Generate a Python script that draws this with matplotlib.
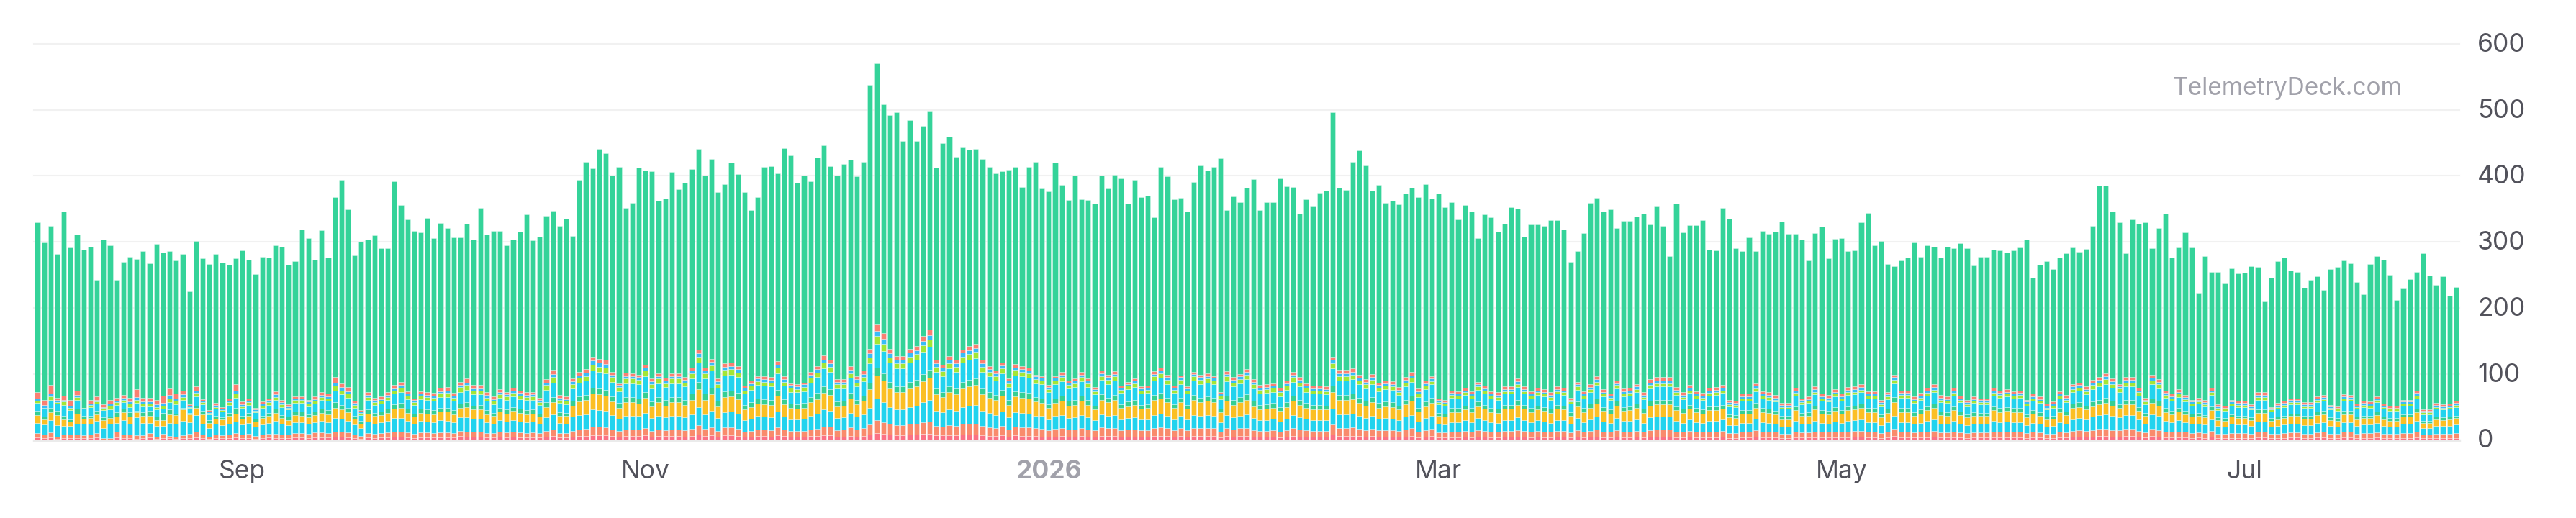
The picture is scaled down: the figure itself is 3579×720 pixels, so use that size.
import numpy as np
import pandas as pd
import matplotlib
matplotlib.use("Agg")
import matplotlib.pyplot as plt
import matplotlib.dates as mdates
from matplotlib.transforms import blended_transform_factory, ScaledTranslation

plt.rcParams['font.family'] = ['Inter', 'DejaVu Sans']

start_date = "2025-08-01"

totals = [330,299,324,282,346,292,311,288,293,243,
303,295,243,270,277,274,286,268,297,284,
286,272,282,225,301,275,266,282,269,265,
275,287,273,251,277,276,295,293,265,271,
319,306,273,318,276,368,394,349,280,300,
304,310,291,291,392,356,334,317,314,336,
306,329,321,307,307,327,303,351,311,317,
317,295,304,315,342,302,308,340,347,324,
335,309,394,421,411,441,434,401,414,351,
359,413,408,407,362,366,406,380,390,410,
441,401,426,375,388,420,403,376,348,368,
414,415,404,442,431,390,401,392,428,446,
415,400,418,425,400,421,538,571,508,492,
496,453,484,453,476,499,413,450,459,429,
443,440,441,426,414,404,407,409,414,383,
414,421,381,377,420,386,363,400,365,363,
358,400,381,402,396,358,394,368,370,337,
414,400,365,367,346,391,416,408,414,427,
348,369,360,382,395,348,360,360,396,384,
383,343,365,354,374,378,496,382,379,421,
439,416,378,386,359,362,357,373,382,368,
388,366,373,353,360,334,356,346,306,342,
337,316,328,353,350,308,326,326,324,333,
333,319,270,286,313,359,367,346,349,321,
332,332,338,343,326,354,324,279,358,314,
325,325,333,288,287,352,335,290,286,307,
286,317,312,315,331,312,312,303,272,313,
323,275,305,306,286,287,330,344,295,301,
267,263,272,276,299,277,295,293,276,293,
291,298,290,264,277,277,288,287,284,287,
292,304,246,265,271,259,276,283,292,285,
289,324,385,385,346,330,283,334,327,330,
291,321,343,276,292,314,292,223,279,254,
255,237,260,252,253,263,262,210,246,271,
276,257,254,230,243,248,227,259,262,272,
268,239,221,267,279,273,250,212,229,244,
255,283,249,235,248,219,232]

rose = [4,3,4,2,3,3,3,3,3,4,
1,1,4,3,3,2,3,4,2,3,
3,2,3,3,4,3,2,3,3,3,
4,3,3,2,3,4,3,3,3,4,
4,3,4,4,4,5,5,4,3,2,
4,3,4,4,5,5,4,3,4,4,
4,4,4,4,6,5,5,5,4,4,
5,4,5,4,4,4,4,5,6,4,
4,5,6,6,7,7,7,6,5,6,
6,6,7,5,6,6,6,6,5,6,
8,6,7,5,7,7,6,5,5,6,
6,5,7,6,5,5,5,6,6,7,
7,5,5,6,5,6,8,10,9,8,
7,7,8,8,9,9,7,7,7,7,
8,8,8,7,6,6,7,5,7,6,
6,6,5,5,5,6,5,5,6,5,
5,6,6,6,5,5,5,5,5,6,
6,6,5,6,5,6,6,6,6,4,
6,5,6,6,5,5,5,5,4,5,
6,5,5,5,5,5,8,6,6,6,
6,5,6,5,5,5,5,5,6,4,
5,6,4,4,4,4,5,4,5,5,
4,4,5,5,5,5,4,5,4,4,
5,5,4,5,4,5,5,4,4,5,
4,4,5,4,5,5,5,5,4,4,
5,4,4,4,4,5,3,3,4,4,
5,4,4,4,3,3,4,4,4,4,
4,4,4,4,4,5,5,4,4,3,
4,6,4,4,4,4,4,5,4,4,
4,4,3,4,4,4,4,4,4,4,
4,3,4,4,3,3,4,4,5,5,
5,5,6,6,5,5,6,6,5,4,
6,5,4,4,4,4,3,4,3,5,
3,3,3,3,3,3,4,4,3,3,
3,4,4,3,3,4,4,3,3,4,
4,3,3,3,4,3,3,3,3,3,
4,3,3,3,3,3,3]

coral = [6,5,7,3,5,5,5,4,5,6,
2,2,8,5,5,5,4,6,3,6,
3,3,4,6,8,5,3,5,4,5,
6,5,6,4,5,5,6,5,5,6,
6,6,7,7,6,8,8,7,5,4,
6,6,6,7,8,8,7,6,7,7,
6,7,7,6,8,8,8,8,6,6,
7,7,7,7,6,7,6,9,10,6,
6,9,10,11,13,13,12,10,9,10,
10,10,11,9,10,9,10,10,10,11,
14,11,12,9,12,12,11,8,9,10,
10,10,12,10,9,9,9,10,11,13,
13,10,11,13,11,12,15,20,18,16,
15,15,16,17,18,19,14,13,15,14,
16,17,17,14,13,12,14,11,13,13,
13,12,12,10,12,12,11,11,12,11,
10,13,12,12,10,11,11,10,10,12,
13,12,10,12,10,12,12,12,12,9,
12,11,12,12,10,9,9,10,9,10,
12,11,10,9,9,9,15,12,12,13,
11,10,11,10,10,10,9,11,12,9,
10,11,7,7,8,8,9,8,10,9,
8,8,9,9,10,9,8,9,9,8,
9,9,7,10,8,9,11,9,8,10,
9,9,9,8,10,11,11,11,9,8,
9,8,8,9,9,9,7,7,8,8,
10,8,8,8,6,6,9,7,7,9,
8,8,9,8,9,9,9,8,8,7,
8,11,8,8,7,8,9,9,7,7,
9,7,7,7,7,7,9,8,8,8,
8,7,8,7,6,6,8,7,9,10,
9,10,11,11,10,10,11,11,9,7,
11,10,8,8,9,8,7,7,7,9,
6,6,7,7,7,6,8,8,6,6,
7,7,7,6,6,7,8,6,6,8,
8,6,7,7,7,6,6,6,7,7,
8,5,5,6,6,6,7]

cyan = [16,15,19,17,13,13,17,17,16,19,
15,21,14,22,16,27,19,16,16,12,
20,20,22,18,26,17,13,16,15,16,
18,15,17,14,15,17,20,16,14,17,
17,15,16,18,17,20,19,18,15,12,
18,16,17,18,20,20,18,16,18,17,
17,19,18,17,20,21,19,19,17,15,
18,17,18,17,17,17,15,20,23,16,
15,21,22,22,26,25,25,22,18,21,
21,20,23,19,21,19,21,21,19,22,
28,22,25,19,23,24,23,17,18,20,
19,19,24,19,17,17,18,21,23,26,
24,18,18,22,19,21,26,33,30,26,
24,24,26,27,30,32,23,22,24,23,
26,27,28,23,22,20,22,18,22,22,
21,19,19,16,19,20,17,18,20,18,
15,20,19,20,16,17,18,16,16,20,
21,19,16,19,16,20,19,20,19,14,
20,18,19,21,18,16,16,17,15,17,
20,18,17,16,16,16,24,21,21,21,
19,18,20,17,18,17,16,19,20,15,
18,19,13,12,15,15,16,15,18,16,
15,14,16,16,19,16,15,16,15,14,
16,16,13,18,15,17,19,15,14,18,
16,16,17,14,19,19,19,19,16,14,
17,15,14,16,16,17,12,12,14,14,
17,15,14,13,11,11,16,13,13,16,
14,13,15,14,16,16,17,15,15,12,
15,20,15,15,13,14,16,17,14,13,
16,13,12,13,13,13,16,15,16,15,
15,12,14,13,11,12,15,14,17,18,
17,20,21,22,21,19,21,21,17,14,
22,21,17,15,17,15,14,14,13,17,
12,11,14,13,13,12,16,16,11,12,
13,14,14,13,13,15,15,12,11,15,
15,12,13,13,15,12,11,11,14,14,
17,10,10,12,12,12,13]

amber = [12,8,12,16,10,7,15,8,9,10,
12,9,9,12,11,8,10,10,9,9,
13,13,17,12,10,14,8,8,9,12,
12,9,10,8,10,10,12,9,8,11,
10,10,11,12,12,16,14,13,9,7,
12,11,11,12,14,15,12,10,12,12,
12,13,14,12,14,16,14,14,12,11,
13,12,14,13,12,12,10,16,18,11,
11,17,20,21,24,24,23,20,17,20,
20,19,23,18,20,18,20,20,19,22,
27,22,25,18,23,23,22,16,18,19,
19,19,24,19,17,16,17,20,22,25,
24,18,18,22,19,20,28,35,33,28,
26,26,28,29,32,34,25,23,26,25,
28,29,30,25,23,22,24,19,24,23,
23,21,20,17,20,21,19,19,21,19,
16,22,20,22,17,18,19,16,17,22,
23,20,17,20,16,22,20,21,20,15,
21,19,20,22,18,16,17,17,16,18,
21,19,17,16,16,16,25,21,21,22,
20,19,20,17,18,18,16,19,21,15,
18,20,12,12,15,15,16,15,18,17,
15,15,17,17,19,17,15,16,16,15,
17,16,13,18,15,17,20,16,14,19,
15,16,17,15,18,19,19,19,16,15,
16,15,14,16,16,16,12,11,14,14,
17,15,15,14,11,11,16,12,13,17,
14,14,16,14,16,16,17,15,15,12,
14,20,15,15,13,14,16,17,13,13,
16,14,12,13,12,12,16,15,16,15,
15,12,14,13,11,11,15,13,17,17,
15,16,16,17,16,14,16,16,13,11,
17,16,13,12,13,12,11,11,11,14,
9,9,11,10,10,9,13,13,9,10,
10,11,11,10,10,12,12,9,9,12,
12,10,10,10,12,10,9,9,11,11,
13,8,8,10,9,10,10]

teal = [6,4,6,6,5,3,7,5,4,5,
4,2,7,5,7,2,6,8,5,11,
7,2,3,2,4,5,4,4,3,5,
8,4,5,4,4,5,6,5,5,5,
6,5,5,6,6,8,7,7,5,4,
6,5,5,6,7,8,6,5,6,6,
6,6,6,6,7,7,6,7,6,5,
6,6,6,6,6,6,5,7,8,5,
5,7,8,8,9,9,9,8,7,8,
8,8,9,7,8,8,8,8,8,9,
11,9,10,8,9,9,9,7,7,8,
8,8,9,8,7,7,7,8,9,10,
9,7,7,8,7,8,10,12,11,10,
9,9,10,10,11,12,9,8,9,9,
10,10,10,9,8,8,9,7,8,8,
8,7,7,6,7,8,7,7,8,7,
6,8,7,8,6,7,7,6,6,8,
8,7,6,7,6,8,7,7,7,5,
8,8,8,8,8,7,7,7,6,7,
8,8,7,7,7,6,10,8,8,8,
8,7,8,7,7,7,6,7,8,6,
7,8,5,5,6,6,6,6,7,6,
6,6,6,6,7,6,6,6,6,6,
6,6,5,7,6,7,8,6,6,7,
6,6,7,6,7,7,7,7,6,6,
6,6,6,6,6,6,5,5,5,5,
7,6,6,5,5,5,6,5,5,6,
5,5,6,5,6,6,7,6,6,5,
6,8,6,6,5,6,6,7,5,5,
6,5,5,5,5,5,6,6,6,6,
6,5,5,5,4,5,6,5,7,7,
6,7,7,8,7,6,7,7,6,5,
7,7,6,5,6,5,5,5,4,6,
4,4,4,4,4,4,5,5,4,4,
4,4,4,4,4,5,5,4,4,5,
5,4,4,4,5,4,4,4,4,4,
5,3,3,4,4,4,4]

cyan2 = [12,12,12,11,17,14,14,10,13,11,
11,11,11,10,8,12,9,7,11,6,
11,14,11,8,14,10,9,11,9,12,
16,12,12,10,12,12,14,12,11,13,
13,12,12,14,14,18,16,15,12,9,
14,12,12,14,16,17,15,13,15,14,
14,16,16,14,18,19,17,16,14,13,
15,15,16,15,15,15,13,19,22,14,
13,19,21,22,26,25,25,22,18,21,
21,21,24,20,21,20,21,21,20,23,
29,23,26,20,24,24,24,17,19,20,
20,20,25,20,18,18,18,22,24,27,
26,20,19,23,20,22,29,36,34,29,
27,27,29,30,33,35,25,24,27,25,
29,30,31,25,24,22,25,20,24,24,
23,21,21,18,21,22,19,20,22,20,
17,22,21,22,17,19,20,17,17,22,
23,21,17,21,17,22,21,21,20,15,
22,20,21,23,19,17,17,17,16,19,
21,20,17,17,17,17,26,22,22,22,
20,19,20,18,19,19,16,20,21,16,
19,20,13,12,16,15,16,15,18,17,
15,14,17,17,20,17,15,16,16,14,
17,16,13,18,15,18,20,16,14,19,
16,16,18,15,19,20,20,20,17,15,
18,15,15,16,17,18,12,12,14,14,
18,15,14,14,11,11,16,13,14,17,
14,14,16,14,17,17,17,15,15,12,
15,21,16,16,14,14,16,17,14,14,
16,14,12,14,13,13,16,16,16,15,
16,13,14,14,11,12,15,14,18,18,
17,19,20,21,20,18,20,20,17,13,
21,19,16,15,16,14,12,14,13,17,
11,11,13,13,13,12,15,15,10,12,
13,14,14,12,12,14,15,12,11,15,
15,12,13,12,14,12,11,11,13,13,
16,10,10,12,12,12,13]

lime = [3,2,6,2,5,4,4,1,3,3,
3,6,4,3,5,5,4,4,4,5,
6,5,5,1,5,3,2,3,2,4,
6,3,4,2,3,4,4,4,3,4,
4,4,4,4,4,7,6,6,4,3,
5,4,4,4,5,6,5,4,5,5,
5,6,6,5,7,7,6,6,5,5,
5,5,5,5,5,5,4,7,8,5,
5,7,7,7,9,8,8,7,6,7,
7,7,8,7,7,6,7,7,6,8,
9,8,8,6,8,8,7,5,6,6,
6,6,8,6,6,5,6,7,7,9,
8,6,6,7,6,6,9,11,10,8,
8,8,9,9,10,11,8,7,8,8,
9,9,9,8,7,7,7,6,8,7,
7,6,6,5,6,6,5,6,6,6,
5,6,6,6,5,5,6,5,5,6,
7,6,5,6,5,6,6,6,6,5,
7,6,6,7,6,6,6,6,6,6,
7,6,6,5,5,5,8,7,7,7,
6,6,6,5,5,5,5,6,6,5,
5,5,3,3,4,4,4,4,5,5,
4,4,4,4,5,4,4,4,4,4,
4,4,3,5,4,4,5,4,4,5,
4,4,4,3,5,5,5,5,4,3,
4,4,3,4,4,4,3,3,4,4,
4,4,4,3,3,3,4,3,3,4,
4,3,4,4,4,4,4,4,4,3,
4,5,4,4,3,4,4,4,3,3,
4,3,3,3,3,3,4,4,4,4,
4,3,4,3,3,3,4,4,4,4,
5,6,6,7,6,6,6,6,5,4,
6,6,4,4,5,4,3,3,3,4,
3,3,3,3,3,3,4,4,3,3,
3,3,3,3,3,3,3,3,3,4,
3,3,3,3,3,3,3,3,3,3,
4,3,3,3,3,3,3]

sky = [4,4,4,4,2,3,3,1,2,3,
2,3,2,4,3,4,3,3,4,4,
5,4,4,2,4,2,2,3,2,2,
5,3,2,2,3,3,4,3,2,3,
3,3,3,3,3,5,5,4,3,2,
3,3,3,3,3,4,3,3,3,3,
3,3,4,3,3,4,3,3,4,3,
4,3,4,4,3,3,3,4,5,3,
3,4,4,5,6,6,6,4,3,4,
4,4,4,4,4,4,4,4,4,4,
5,4,5,4,5,5,5,4,4,4,
4,4,5,4,4,4,4,5,5,5,
5,4,4,5,5,5,6,8,8,6,
5,5,6,6,7,7,5,5,5,5,
6,6,6,5,4,4,5,4,4,4,
4,4,4,3,4,4,4,4,4,4,
3,4,4,4,3,3,4,3,3,4,
4,4,3,4,3,4,4,4,4,3,
4,4,4,4,4,3,3,3,3,4,
4,4,3,3,3,3,5,4,4,4,
4,4,4,4,4,4,3,4,4,4,
4,4,3,2,3,3,3,3,3,3,
3,3,3,3,4,3,3,3,3,3,
3,3,3,3,3,3,4,3,3,3,
4,4,4,3,4,4,4,4,4,3,
4,3,3,4,4,4,3,3,3,3,
4,3,3,3,3,3,4,3,3,4,
3,3,3,3,4,4,4,3,3,3,
3,4,3,3,3,3,4,4,4,3,
4,3,3,3,3,3,4,3,3,3,
3,3,3,3,3,3,3,3,4,4,
3,4,4,4,4,3,4,4,3,3,
4,4,3,3,3,3,3,3,3,3,
3,2,3,3,3,2,3,3,2,3,
3,3,3,3,3,3,3,2,2,3,
3,2,3,3,3,2,2,2,3,3,
4,2,2,3,2,2,3]

salmon = [9,8,13,3,7,9,7,0,6,5,
4,6,5,4,6,12,6,6,6,11,
10,7,6,2,6,3,2,3,3,4,
9,4,4,2,3,3,5,3,3,3,
3,3,4,4,4,8,6,6,3,2,
4,4,4,4,5,5,4,3,4,4,
4,5,5,4,5,6,5,5,4,4,
4,4,4,4,4,4,4,5,6,4,
4,4,5,5,6,6,6,4,3,5,
4,4,5,4,4,4,4,4,4,5,
6,5,5,4,5,5,5,3,4,4,
4,4,5,4,3,3,3,4,5,6,
6,4,4,6,5,5,7,10,9,7,
6,6,6,6,8,8,5,5,6,5,
5,6,6,5,5,4,4,3,5,5,
5,3,3,3,3,4,3,3,4,3,
3,4,4,4,3,3,3,3,3,4,
4,4,3,3,3,3,4,4,3,2,
4,4,4,4,4,4,4,4,4,4,
4,4,4,4,4,4,5,5,5,5,
5,4,5,4,4,4,4,4,5,4,
4,4,3,3,4,4,4,4,4,4,
4,4,4,4,4,4,4,4,4,4,
4,4,3,4,4,4,4,4,3,4,
4,4,4,4,5,5,5,5,4,4,
4,4,4,4,4,4,3,3,4,4,
4,4,4,4,3,3,4,3,4,4,
4,4,4,4,4,4,4,4,4,3,
4,4,4,4,4,4,4,4,4,4,
4,4,3,4,3,3,4,4,4,4,
4,3,4,4,3,3,4,4,4,4,
4,4,4,5,4,4,4,4,4,3,
5,4,4,4,4,3,3,3,3,4,
3,3,3,3,3,3,4,4,2,3,
3,3,3,3,3,3,3,2,2,3,
3,3,3,3,3,3,3,3,3,3,
4,2,2,3,3,3,3]

month_ticks = ["2025-09-01", "2025-11-01", "2026-01-01", "2026-03-01", "2026-05-01", "2026-07-01"]
month_labels = ["Sep", "Nov", "2026", "Mar", "May", "Jul"]
y_ticks = [0, 100, 200, 300, 400, 500, 600]

lower_series = [rose, coral, cyan, amber, teal, cyan2, lime, sky, salmon]
lower_colors = ["#FB7185", "#F98B6C", "#22D3EE", "#FBBF24", "#36CF93",
                "#22D3EE", "#A3E635", "#38BDF8", "#FA8072"]
main_color = "#34D399"

n = len(totals)
for s in lower_series:
    if len(s) != n:
        raise ValueError("length mismatch %d vs %d" % (len(s), n))

dates = pd.date_range(start_date, periods=n, freq="D")
x = mdates.date2num(dates)

W, H, DPI = 3579, 720, 100
fig = plt.figure(figsize=(W / DPI, H / DPI), dpi=DPI)
ax_left, ax_right = 47.4 / W, 3417 / W
ax_bottom = 1 - 611.5 / H
ax_top = 1 - 61.0 / H
ax = fig.add_axes([ax_left, ax_bottom, ax_right - ax_left, ax_top - ax_bottom])

ax.set_xlim(x[0] - 0.5, x[-1] + 0.5)
ax.set_ylim(0, 600)
for s in ax.spines.values():
    s.set_visible(False)
ax.set_xticks([])
ax.set_yticks([])

for v in y_ticks[1:]:
    ax.axhline(v, color="#F1F1F1", lw=1.5, zorder=0, clip_on=False)
ax.axhline(0, color="#EBEBEB", lw=2.4, zorder=0.5, clip_on=False)

bottom = np.zeros(n)
edge = (1, 1, 1, 0.45)
bw = 0.78
for vals, col in zip(lower_series, lower_colors):
    v = np.array(vals, dtype=float)
    ax.bar(x, v, width=bw, bottom=bottom, color=col, edgecolor=edge, linewidth=0.5, zorder=2)
    bottom += v
main = np.array(totals, dtype=float) - bottom
ax.bar(x, main, width=bw, bottom=bottom, color=main_color, edgecolor=edge, linewidth=0.5, zorder=2)

# month labels
tr_x = blended_transform_factory(ax.transData, fig.transFigure)
for d, lab in zip(month_ticks, month_labels):
    xd = mdates.date2num(pd.Timestamp(d))
    bold = lab.isdigit()
    ax.text(xd, 1 - 665 / H, lab, transform=tr_x, ha="center", va="baseline",
            fontsize=25.5, color="#A1A1AA" if bold else "#52525B",
            fontweight="bold" if bold else "normal")

# y labels on the right
tr_y = blended_transform_factory(fig.transFigure, ax.transData)
off = ScaledTranslation(0, -11 / DPI, fig.dpi_scale_trans)
for v in y_ticks:
    ax.text(3442 / W, v, str(v), transform=tr_y + off, ha="left", va="baseline",
            fontsize=25.5, color="#52525B", clip_on=False)

# watermark
fig.text(3337 / W, 1 - 123 / H, "TelemetryDeck.com", ha="right", va="center",
         fontsize=24, color="#A1A1AA")

fig.savefig("out.png", dpi=DPI)
